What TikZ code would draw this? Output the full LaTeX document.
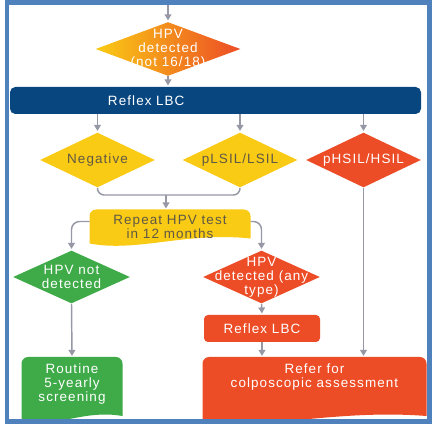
\documentclass[tikz,border=0pt]{standalone}
\usepackage{fontspec}
\setmainfont{Liberation Sans}[LetterSpace=8]
\usetikzlibrary{shapes.geometric,arrows.meta,calc,backgrounds}

\definecolor{frameblue}{RGB}{79,129,189}
\definecolor{barblue}{RGB}{8,70,128}
\definecolor{hpvyellow}{RGB}{250,203,20}
\definecolor{hpvorange}{RGB}{246,140,30}
\definecolor{hpvred}{RGB}{236,76,38}
\definecolor{hpvgreen}{RGB}{62,170,72}
\definecolor{linegray}{RGB}{150,152,165}
\definecolor{darktext}{RGB}{95,88,70}

\tikzset{every picture/.style={line width=0.75pt}}

% wavy bottom box behind a node
\newcommand{\docfill}[2]{%
  \begin{scope}[on background layer]
    \fill[#2] (#1.south west) [rounded corners=5pt] -- (#1.north west) -- (#1.north east) [sharp corners] -- ($(#1.south east)+(0,-5)$)
      .. controls ($(#1.south west)!0.6!(#1.south east)+(0,-12)$) and ($(#1.south west)!0.3!(#1.south east)+(0,9)$) .. (#1.south west) -- cycle;
  \end{scope}}

\begin{document}
\begin{tikzpicture}[x=0.75pt,y=0.75pt,yscale=-1,xscale=1,
  arr/.style={draw=linegray, line width=1.1pt, -{Triangle[length=4.5pt,width=5pt]}, shorten >=0.8pt},
  link/.style={draw=linegray, line width=1.1pt},
  decision/.style={diamond, inner sep=0pt, minimum width=86.25pt, minimum height=41.25pt},
  txt/.style={align=center, font=\fontsize{10.1pt}{10.5pt}\selectfont},
  wtext/.style={txt, text=white},
  ytext/.style={txt, text=darktext},
  docbox/.style={rectangle, inner sep=0pt, align=center, font=\fontsize{10.1pt}{10.5pt}\selectfont}
]
\useasboundingbox (0,0) rectangle (433,424);
\begin{scope}[on background layer]
\fill[white] (0,0) rectangle (433,424);
\end{scope}

%Top decision
\coordinate (top) at (168,0);
\node[decision, minimum width=108.75pt, minimum height=40.5pt, left color=hpvyellow, middle color=hpvorange, right color=hpvred,
  label={[wtext]center:HPV\\detected\\(not 16/18)}] (hpv) at (168,49) {};

%Reflex LBC bar
\node[rectangle, rounded corners=4pt, fill=barblue, inner sep=0pt, minimum width=308.25pt, minimum height=20.25pt,
  text width=308.25pt, align=left, text=white, font=\fontsize{10.1pt}{10.5pt}\selectfont] (lbc) at (215.5,100.5) {\hspace*{73.5pt}Reflex LBC};

%Cytology results
\node[decision, fill=hpvyellow, label={[ytext]center:Negative}] (neg) at (97.5,160) {};
\node[decision, fill=hpvyellow, label={[ytext]center:pLSIL/LSIL}] (plsil) at (240,160) {};
\node[decision, fill=hpvred, label={[wtext]center:pHSIL/HSIL}] (phsil) at (363.5,160) {};

%Repeat test
\node[docbox, text=darktext, minimum width=120pt, minimum height=24.75pt] (rep) at (170,226.5) {Repeat HPV test\\in 12 months};
\docfill{rep}{hpvyellow}

%Second round
\node[decision, minimum width=87.75pt, minimum height=39.75pt, fill=hpvgreen, label={[wtext]center:HPV not\\detected}] (notdet) at (71.5,277) {};
\node[decision, minimum width=87.75pt, minimum height=39.75pt, fill=hpvred, label={[wtext]center:HPV\\detected (any\\type)}] (detany) at (261.5,277) {};

\node[rectangle, rounded corners=3pt, fill=hpvred, inner sep=0pt, minimum width=87pt, minimum height=20.25pt,
  text=white, font=\fontsize{10.1pt}{10.5pt}\selectfont] (refl) at (262,328.5) {Reflex LBC};

%Outcomes
\node[docbox, text=white, anchor=north, minimum width=75pt, minimum height=47.25pt, text depth=9.5pt] (routine) at (72,357) {Routine\\5-yearly\\screening};
\docfill{routine}{hpvgreen}
\node[docbox, text=white, anchor=north, minimum width=167.25pt, minimum height=47.25pt, text depth=20.5pt] (refer) at (314.5,357) {Refer for\\colposcopic assessment};
\docfill{refer}{hpvred}

%Connectors
\draw[arr] (top) -- (hpv.north);
\draw[arr] (hpv.south) -- (hpv.south |- lbc.north);
\draw[arr] (lbc.south -| neg.north) -- (neg.north);
\draw[arr] (lbc.south -| plsil.north) -- (plsil.north);
\draw[arr] (lbc.south -| phsil.north) -- (phsil.north);

\coordinate (merge) at (166,195);
\draw[link, rounded corners=5pt] (neg.south) |- (merge) -| (plsil.south);
\draw[arr] (merge) -- (merge |- rep.north);

\draw[arr, rounded corners=6pt] ($(rep.west)+(0,-5)$) -| (notdet.north);
\draw[arr, rounded corners=6pt] ($(rep.east)+(0,-5)$) -| (detany.north);

\draw[arr] (notdet.south) -- (routine.north);
\draw[arr] (detany.south) -- (refl.north);
\draw[arr] (refl.south) -- (refl.south |- refer.north);
\draw[arr] (phsil.south) -- (phsil.south |- refer.north);

%Frame
\draw[frameblue, line width=3.4pt] (7,2.5) rectangle (429.5,421.5);

\end{tikzpicture}
\end{document}
